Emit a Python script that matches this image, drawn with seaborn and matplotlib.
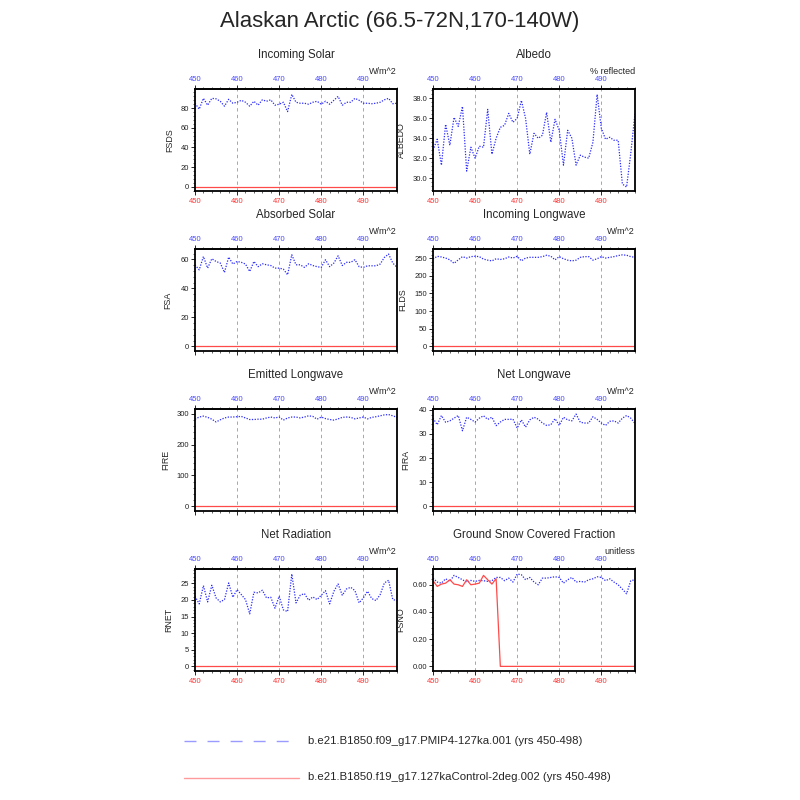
import numpy as np
import pandas as pd
import seaborn as sns
import matplotlib
matplotlib.use("Agg")
import matplotlib.pyplot as plt
from matplotlib.ticker import MultipleLocator, AutoMinorLocator, FormatStrFormatter
from matplotlib.lines import Line2D

# DATA
years = list(range(450, 499))

run_a = "b.e21.B1850.f09_g17.PMIP4-127ka.001 (yrs 450-498)"
run_b = "b.e21.B1850.f19_g17.127kaControl-2deg.002 (yrs 450-498)"

fsds_a = [85, 79, 90, 83, 90, 89.5, 87, 82, 89, 85,
          86, 88, 86, 82, 87, 83, 88.5, 87, 88.5, 83,
          84, 86, 76.5, 94, 86, 85, 85, 84, 86, 87,
          84, 87, 84, 88, 92, 83, 86, 86, 90, 88,
          85, 85, 84.5, 85, 86, 88.5, 90, 84.5, 85]
albedo_a = [32.8, 33.9, 31.3, 35.4, 33.3, 36.1, 35.2, 37.2, 30.7, 33.1,
            32.0, 33.2, 33.1, 36.9, 32.4, 34.0, 35.1, 35.3, 36.5, 35.6,
            36.0, 37.8, 36.0, 32.4, 34.5, 34.0, 34.3, 36.6, 33.6, 35.9,
            34.8, 31.3, 34.8, 34.0, 31.3, 32.3, 32.1, 32.0, 33.6, 38.4,
            35.0, 33.9, 34.1, 33.8, 33.8, 29.4, 29.1, 32.5, 36.5]
fsa_a = [56.3, 52.8, 62, 54, 60.5, 58.6, 57.5, 51, 61.6, 56.8,
         58.6, 58, 56.8, 51.7, 58.6, 55, 57, 56.3, 55.8, 54,
         54, 53.3, 49.4, 63.2, 56.3, 56.3, 54.5, 57, 55.8, 55,
         54.5, 59.8, 55, 57.5, 62.5, 55.8, 58, 58, 59.8, 55,
         54.5, 55.6, 55.6, 55.6, 56.8, 61.4, 63.7, 57.5, 54.5]
flds_a = [247, 255, 253, 250, 245, 235, 245, 254, 250, 254,
          255, 254, 247, 244, 242, 248, 246, 248, 253, 250,
          255, 242, 250, 252, 252, 252, 254, 258, 255, 245,
          254, 248, 244, 242, 244, 252, 254, 254, 244, 248,
          254, 250, 252, 254, 257, 259, 258, 254, 252]
fire_a = [282, 289, 292, 288, 282, 273, 280, 286, 289, 289,
          290, 291, 286, 281, 281, 282, 282, 286, 289, 286,
          289, 279, 286, 289, 289, 286, 289, 293, 291, 282,
          289, 284, 281, 279, 283, 288, 289, 288, 283, 286,
          289, 283, 288, 290, 293, 296, 297, 293, 288]
fira_a = [36.5, 33.8, 37.6, 34.8, 35.4, 36.5, 37.6, 31.3, 36.9, 36.0,
          34.9, 36.5, 37.5, 36.0, 36.9, 33.4, 34.9, 36.0, 36.0, 36.1,
          32.4, 35.8, 32.8, 35.8, 36.9, 36.1, 34.5, 33.5, 33.8, 36.3,
          33.5, 36.9, 35.8, 35.4, 38.2, 34.8, 34.5, 34.5, 37.1, 36.0,
          34.5, 33.5, 35.2, 35.4, 34.5, 36.5, 37.6, 36.5, 34.3]
rnet_a = [21.1, 18.8, 24.3, 19.4, 24.4, 20.6, 19.4, 20.1, 25.1, 20.8,
          23.1, 21.6, 20.1, 15.8, 22.3, 22.1, 22.9, 20.6, 20.8, 17.5,
          21.1, 17.0, 16.5, 27.8, 19.1, 21.4, 21.9, 19.9, 20.9, 20.1,
          21.4, 22.8, 18.8, 22.6, 24.8, 21.4, 23.3, 23.8, 22.8, 19.1,
          20.6, 22.6, 20.4, 19.8, 21.6, 25.1, 25.9, 20.1, 19.8]
fsno_a = [0.649, 0.620, 0.612, 0.644, 0.625, 0.669, 0.654, 0.637, 0.620, 0.632,
          0.625, 0.632, 0.630, 0.625, 0.630, 0.654, 0.654, 0.630, 0.649, 0.620,
          0.679, 0.674, 0.637, 0.654, 0.620, 0.600, 0.649, 0.649, 0.654, 0.659,
          0.654, 0.612, 0.637, 0.654, 0.620, 0.625, 0.620, 0.637, 0.644, 0.659,
          0.654, 0.630, 0.644, 0.620, 0.600, 0.568, 0.534, 0.630, 0.637]
fsno_b = [0.630, 0.588, 0.605, 0.612, 0.637, 0.605, 0.600, 0.588, 0.637, 0.600,
          0.605, 0.612, 0.669, 0.637, 0.605, 0.645, 0, 0, 0, 0,
          0, 0, 0, 0, 0, 0, 0, 0, 0, 0,
          0, 0, 0, 0, 0, 0, 0, 0, 0, 0,
          0, 0, 0, 0, 0, 0, 0, 0, 0]
zeros_b = [0.0] * len(years)

panel_titles = ["Incoming Solar", "Albedo", "Absorbed Solar", "Incoming Longwave",
                "Emitted Longwave", "Net Longwave", "Net Radiation",
                "Ground Snow Covered Fraction"]
var_names = ["FSDS", "ALBEDO", "FSA", "FLDS", "FIRE", "FIRA", "RNET", "FSNO"]
units = ["W/m^2", "% reflected", "W/m^2", "W/m^2", "W/m^2", "W/m^2", "W/m^2", "unitless"]
series_a = [fsds_a, albedo_a, fsa_a, flds_a, fire_a, fira_a, rnet_a, fsno_a]
series_b = [zeros_b, None, zeros_b, zeros_b, zeros_b, zeros_b, zeros_b, fsno_b]

# axis setup per panel
ylims = [(-4.4, 99.5), (28.7, 38.95), (-3.2, 67.2), (-13, 275.6),
         (-15, 315), (-1.9, 40.3), (-1.4, 29.3), (-0.034, 0.716)]
ysteps = [20, 2, 20, 50, 100, 10, 5, 0.2]
yfmts = ["%d", "%.1f", "%d", "%d", "%d", "%d", "%d", "%.2f"]
ylab_x = [-0.104, -0.134, -0.114, -0.129, -0.124, -0.114, -0.109, -0.139]

rows = []
for name, a, b in zip(var_names, series_a, series_b):
    for i, yr in enumerate(years):
        rows.append({"year": yr, "var": name, "run": run_a, "value": a[i]})
        if b is not None:
            rows.append({"year": yr, "var": name, "run": run_b, "value": b[i]})
df = pd.DataFrame(rows)

sns.set_style("white")
plt.rcParams["font.family"] = ["Liberation Sans", "DejaVu Sans"]

blue = "#2a2aff"
red = "#ff4a4a"
lab_blue = "#4a4aff"
lab_red = "#ff3333"
tick_fs = 5.5

fig = plt.figure(figsize=(8, 8), dpi=100)
fig.text(0.5, 1 - 22 / 800, "Alaskan Arctic (66.5-72N,170-140W)",
         ha="center", va="center", fontsize=15.9)

lefts = [195 / 800, 433 / 800]
tops = [89, 249, 409, 569]
w = 202 / 800
h = 102 / 800

for k in range(8):
    r, c = divmod(k, 2)
    ax = fig.add_axes([lefts[c], 1 - (tops[r] + 102) / 800, w, h])
    sub = df[df["var"] == var_names[k]]

    sns.lineplot(data=sub[sub["run"] == run_a], x="year", y="value", ax=ax,
                 color=blue, lw=0.9, linestyle=(0, (1, 1.2)))
    if series_b[k] is not None:
        sns.lineplot(data=sub[sub["run"] == run_b], x="year", y="value", ax=ax,
                     color=red, lw=0.9)

    ax.set_xlim(450, 498)
    ax.set_ylim(*ylims[k])
    ax.xaxis.set_major_locator(MultipleLocator(10))
    ax.xaxis.set_minor_locator(MultipleLocator(2))
    ax.yaxis.set_major_locator(MultipleLocator(ysteps[k]))
    ax.yaxis.set_minor_locator(AutoMinorLocator(5))
    ax.yaxis.set_major_formatter(FormatStrFormatter(yfmts[k]))

    for gx in [460, 470, 480, 490]:
        ax.axvline(gx, color="#999999", lw=0.6, linestyle=(0, (4, 4)), zorder=0)

    for s in ax.spines.values():
        s.set_linewidth(1.3)
        s.set_color("black")

    ax.tick_params(axis="both", which="major", direction="out", length=3,
                   width=0.7, labelsize=tick_fs, pad=1.2, left=True, bottom=True)
    ax.tick_params(axis="both", which="minor", direction="out", length=1.6,
                   width=0.5, left=True, bottom=True)
    ax.tick_params(axis="x", labelcolor=lab_red, pad=2.2)
    ax.tick_params(axis="y", labelcolor="#222222")
    if r in (1, 2):
        ax.tick_params(axis="x", labelbottom=False)

    top = ax.secondary_xaxis("top")
    top.xaxis.set_major_locator(MultipleLocator(10))
    top.xaxis.set_minor_locator(MultipleLocator(2))
    top.tick_params(axis="x", which="major", direction="out", length=3,
                    width=0.7, labelsize=tick_fs, labelcolor=lab_blue, pad=1.5)
    top.tick_params(axis="x", which="minor", direction="out", length=1.6, width=0.5)
    top.spines["top"].set_linewidth(1.3)

    ax.set_xlabel("")
    ax.set_ylabel(var_names[k], fontsize=6.4)
    ax.yaxis.set_label_coords(ylab_x[k], 0.5)

    ax.text(0.5, 1 + 34 / 102, panel_titles[k], transform=ax.transAxes,
            ha="center", va="center", fontsize=8.3)
    ax.text(1.0, 1 + 18 / 102, units[k], transform=ax.transAxes,
            ha="right", va="center", fontsize=6.5)

# legend at the bottom
fig.add_artist(Line2D([184 / 800, 292 / 800], [1 - 741 / 800] * 2,
                      color="#9a9aff", lw=1.0, linestyle=(0, (8.6, 8))))
fig.add_artist(Line2D([184 / 800, 299 / 800], [1 - 777.5 / 800] * 2,
                      color="#ff9a9a", lw=1.0))
fig.text(308 / 800, 1 - 741 / 800, run_a, ha="left", va="center", fontsize=8.2)
fig.text(308 / 800, 1 - 777.5 / 800, run_b, ha="left", va="center", fontsize=8.2)

fig.savefig("out.png", dpi=100)
